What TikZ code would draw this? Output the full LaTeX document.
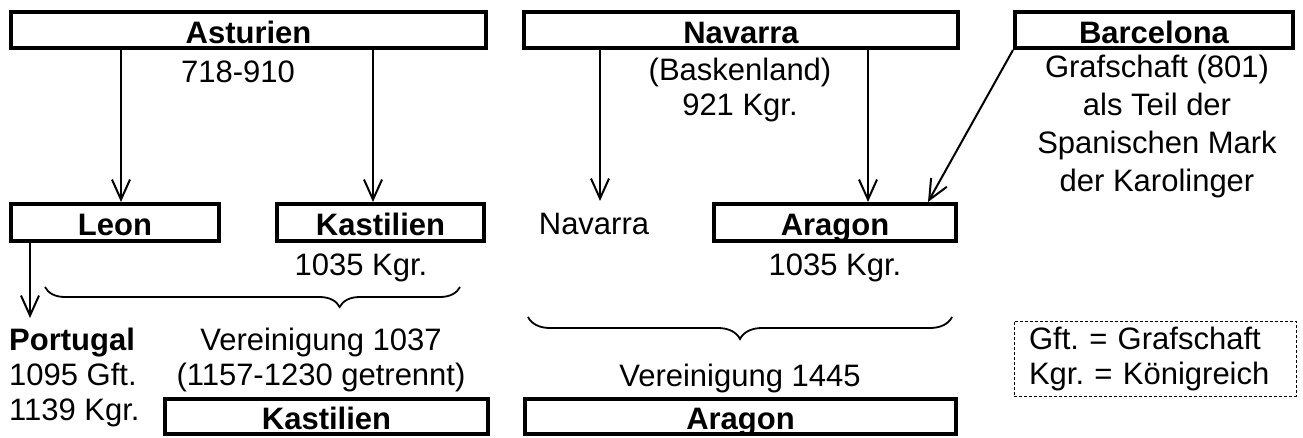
\documentclass[tikz,border=0pt]{standalone}
\usepackage{fontspec}
\setmainfont{Liberation Sans}
\usetikzlibrary{arrows.meta,decorations.pathreplacing}
\frenchspacing

\begin{document}
\begin{tikzpicture}[x=1pt,y=-1pt,
  box/.style={draw,line width=4pt,inner sep=0pt,font=\bfseries,text height=26pt,text depth=0pt},
  lbl/.style={inner sep=0pt,align=center},
  arr/.style={line width=2pt,-{Straight Barb[length=20pt,width=18pt]}},
  brc/.style={line width=1.8pt,decorate}]
\fontsize{31}{35}\selectfont
\useasboundingbox (0,0) rectangle (1303,437);

% realms
\node[box,minimum width=475pt,minimum height=36pt] (ast) at (248.5,30) {Asturien};
\node[box,minimum width=434pt,minimum height=36pt] (nav) at (741,30) {Navarra};
\node[box,minimum width=278pt,minimum height=36pt] (bar) at (1154,30) {Barcelona};
\node[box,minimum width=208pt,minimum height=37pt] (leon) at (115,222.5) {Leon};
\node[box,minimum width=207pt,minimum height=37pt] (kas) at (380.5,222.5) {Kastilien};
\node[box,minimum width=242pt,minimum height=37pt] (ara) at (835,222.5) {Aragon};
\node[box,minimum width=323pt,minimum height=35pt] (kas2) at (326.5,416.5) {Kastilien};
\node[box,minimum width=431pt,minimum height=35pt] (ara2) at (740.5,416.5) {Aragon};

% notes
\node[lbl] (astd) at (238,72) {718-910};
\node[lbl] (navd) at (740,90) {(Baskenland)\\921 Kgr.};
\node[lbl,font=\fontsize{31}{38}\selectfont] (bard) at (1157,126)
  {Grafschaft (801)\\als Teil der\\Spanischen Mark\\der Karolinger};
\node[lbl] (navt) at (594,224) {Navarra};
\node[lbl] (kasd) at (361,268) {1035 Kgr.};
\node[lbl] (arad) at (835,268) {1035 Kgr.};
\node[lbl,align=left,anchor=west] (por) at (9,377) {\textbf{Portugal}\\1095 Gft.\\1139 Kgr.};
\node[lbl] (ver1) at (321,360) {Vereinigung 1037\\(1157-1230 getrennt)};
\node[lbl] (ver2) at (740,378) {Vereinigung 1445};
\node[draw,line width=1pt,dash pattern=on 3pt off 2pt,align=left,inner xsep=15pt,
  inner ysep=0pt,text width=252pt,minimum height=75pt] (leg) at (1155,358.5)
  {Gft. = Grafschaft\\Kgr. = Königreich};

% arrow columns
\coordinate (xa) at (121,0);
\coordinate (xb) at (373,0);
\coordinate (xc) at (600,0);
\coordinate (xd) at (868,0);
\coordinate (xe) at (928,0);
\coordinate (xf) at (30,0);
\coordinate (pend) at (30,318);

\draw[arr] (ast.south -| xa) -- (leon.north -| xa);
\draw[arr] (ast.south -| xb) -- (kas.north -| xb);
\draw[arr,shorten >=12pt] (nav.south -| xc) -- (navt.north -| xc);
\draw[arr] (nav.south -| xd) -- (ara.north -| xd);
\draw[arr] (bar.south west) -- (ara.north -| xe);
\draw[arr] (leon.south -| xf) -- (pend);

% unions
\draw[brc,decoration={brace,amplitude=20pt,mirror,aspect=0.71}] (45,287) -- (460,287);
\draw[brc,decoration={brace,amplitude=22pt,mirror}] (528,317) -- (952,317);
\end{tikzpicture}
\end{document}
